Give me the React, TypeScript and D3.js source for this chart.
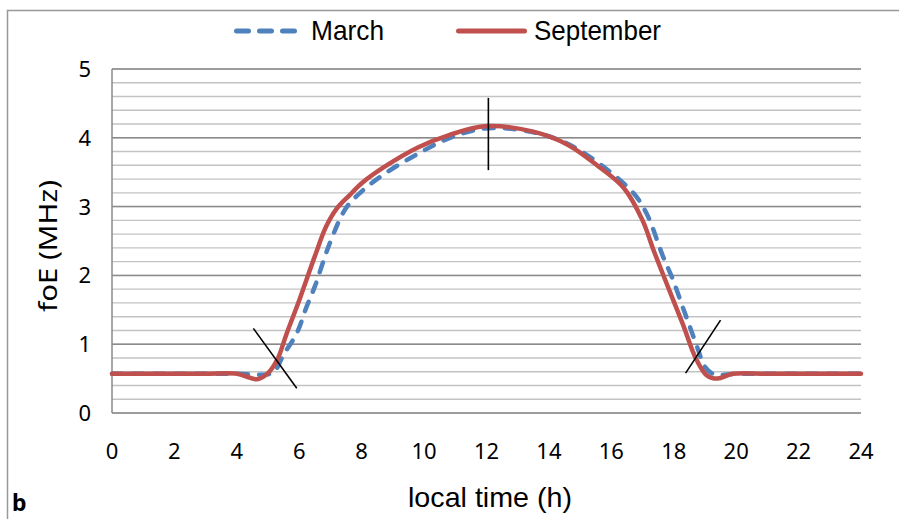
import React, { useEffect, useRef } from 'react';
import * as d3 from 'd3';

// local time (h) and foE (MHz)
const marchHours = [0, 1, 2, 3, 4, 4.96, 5.2, 5.49, 5.92, 6.24, 6.5, 6.98, 7.5, 8.0, 8.68, 9.77, 10.83, 12.05, 13.5, 14.57, 15.6, 16.7, 17.13, 17.66, 17.98, 18.31, 18.52, 18.78, 19.0, 19.3, 20, 21, 22, 23, 24];
const marchFoE = [0.57, 0.57, 0.57, 0.57, 0.57, 0.56, 0.6, 0.84, 1.16, 1.55, 1.84, 2.47, 2.98, 3.22, 3.46, 3.76, 4.0, 4.14, 4.08, 3.92, 3.63, 3.2, 2.9, 2.27, 1.93, 1.51, 1.25, 0.92, 0.67, 0.56, 0.57, 0.57, 0.57, 0.57, 0.57];

const septHours = [0, 1, 2, 3, 4, 4.3, 4.65, 5.0, 5.3, 5.6, 6.0, 6.5, 6.85, 7.2, 7.6, 8.0, 8.7, 9.8, 10.8, 12.0, 13.5, 14.6, 15.6, 16.4, 17.0, 17.35, 17.8, 18.3, 18.7, 19.05, 19.4, 19.9, 21, 22, 23, 24];
const septFoE = [0.57, 0.57, 0.57, 0.57, 0.57, 0.53, 0.49, 0.58, 0.78, 1.16, 1.64, 2.28, 2.7, 2.97, 3.16, 3.34, 3.57, 3.86, 4.04, 4.17, 4.09, 3.9, 3.58, 3.27, 2.8, 2.37, 1.85, 1.28, 0.8, 0.55, 0.5, 0.57, 0.57, 0.57, 0.57, 0.57];

// black marker segments drawn on the chart: [h1, v1, h2, v2]
const markers = [
  [4.53, 1.23, 5.92, 0.36],
  [12.06, 4.58, 12.06, 3.53],
  [18.38, 0.58, 19.5, 1.35],
];

const xTicks = d3.range(0, 25, 2);
const yTicks = [0, 1, 2, 3, 4, 5];
const yMinor = d3.range(0, 5.01, 0.2);

const seriesNames = ['March', 'September'];

export default function App() {
  const ref = useRef(null);

  useEffect(() => {
    const svg = d3.select(ref.current);
    svg.selectAll('*').remove();

    const x = d3.scaleLinear().domain([0, 24]).range([112, 861]);
    const y = d3.scaleLinear().domain([0, 5]).range([413, 69]);

    // outer frame
    svg.append('rect')
      .attr('x', 7.5).attr('y', 10.5)
      .attr('width', 920).attr('height', 540)
      .attr('fill', 'none').attr('stroke', '#999').attr('stroke-width', 1.5);

    // minor grid
    svg.append('g').selectAll('line').data(yMinor).join('line')
      .attr('x1', x(0)).attr('x2', x(24))
      .attr('y1', d => y(d)).attr('y2', d => y(d))
      .attr('stroke', '#c3c3c3').attr('stroke-width', 1.4);

    // major grid
    svg.append('g').selectAll('line').data(yTicks).join('line')
      .attr('x1', x(0)).attr('x2', x(24))
      .attr('y1', d => y(d)).attr('y2', d => y(d))
      .attr('stroke', '#8a8a8a').attr('stroke-width', 1.5);

    // y axis line
    svg.append('line')
      .attr('x1', x(0)).attr('x2', x(0))
      .attr('y1', y(0)).attr('y2', y(5))
      .attr('stroke', '#8a8a8a').attr('stroke-width', 1.5);

    const font = '"Noto Sans", sans-serif';
    const narrow = '"Liberation Sans", Arial, sans-serif';

    svg.append('g').selectAll('text').data(yTicks).join('text')
      .attr('x', 91).attr('y', d => y(d) + 8)
      .attr('text-anchor', 'end')
      .attr('font-family', font).attr('font-size', 22)
      .text(d => d);

    svg.append('g').selectAll('text').data(xTicks).join('text')
      .attr('x', d => x(d)).attr('y', 459)
      .attr('text-anchor', 'middle')
      .attr('font-family', font).attr('font-size', 22)
      .text(d => d);

    svg.append('text')
      .attr('transform', 'translate(57,246) rotate(-90)')
      .attr('text-anchor', 'middle')
      .attr('font-family', font).attr('font-size', 26)
      .attr('textLength', 132).attr('lengthAdjust', 'spacingAndGlyphs')
      .text('foE (MHz)');

    svg.append('text')
      .attr('x', 490).attr('y', 507)
      .attr('text-anchor', 'middle')
      .attr('font-family', narrow).attr('font-size', 28)
      .attr('textLength', 164).attr('lengthAdjust', 'spacingAndGlyphs')
      .text('local time (h)');

    svg.append('text')
      .attr('x', 12).attr('y', 511)
      .attr('font-family', font).attr('font-size', 23).attr('font-weight', 'bold')
      .text('b');

    const line = d3.line<number>()
      .x(d => x(d[0]))
      .y(d => y(d[1]))
      .curve(d3.curveCatmullRom.alpha(0.5));

    const march = marchHours.map((h, i) => [h, marchFoE[i]]);
    const sept = septHours.map((h, i) => [h, septFoE[i]]);

    svg.append('path').datum(march)
      .attr('d', line as any)
      .attr('fill', 'none').attr('stroke', '#4F81BD')
      .attr('stroke-width', 4.5).attr('stroke-dasharray', '10 11')
      .attr('stroke-linecap', 'round');

    svg.append('path').datum(sept)
      .attr('d', line as any)
      .attr('fill', 'none').attr('stroke', '#C0504D')
      .attr('stroke-width', 4.5).attr('stroke-linecap', 'round')
      .attr('stroke-linejoin', 'round');

    svg.append('g').selectAll('line').data(markers).join('line')
      .attr('x1', d => x(d[0])).attr('y1', d => y(d[1]))
      .attr('x2', d => x(d[2])).attr('y2', d => y(d[3]))
      .attr('stroke', '#000').attr('stroke-width', 1.6);

    // legend
    const lg = svg.append('g');
    const legendX = [236.5, 458.5];
    const legendLen = [58, 66];
    const legendText = [311, 534];
    const legendWidth = [73, 127];
    const legendColors = ['#4F81BD', '#C0504D'];
    seriesNames.forEach((name, i) => {
      lg.append('line')
        .attr('x1', legendX[i]).attr('x2', legendX[i] + legendLen[i])
        .attr('y1', 31).attr('y2', 31)
        .attr('stroke', legendColors[i]).attr('stroke-width', 5)
        .attr('stroke-linecap', 'round')
        .attr('stroke-dasharray', i === 0 ? '12 11' : null);
      lg.append('text')
        .attr('x', legendText[i]).attr('y', 40)
        .attr('font-family', narrow).attr('font-size', 28)
        .attr('textLength', legendWidth[i]).attr('lengthAdjust', 'spacingAndGlyphs')
        .text(name);
    });
  }, []);

  return (
    <svg ref={ref} width={899} height={519}
      style={{ position: 'absolute', left: 0, top: 0, background: '#fff' }} />
  );
}
